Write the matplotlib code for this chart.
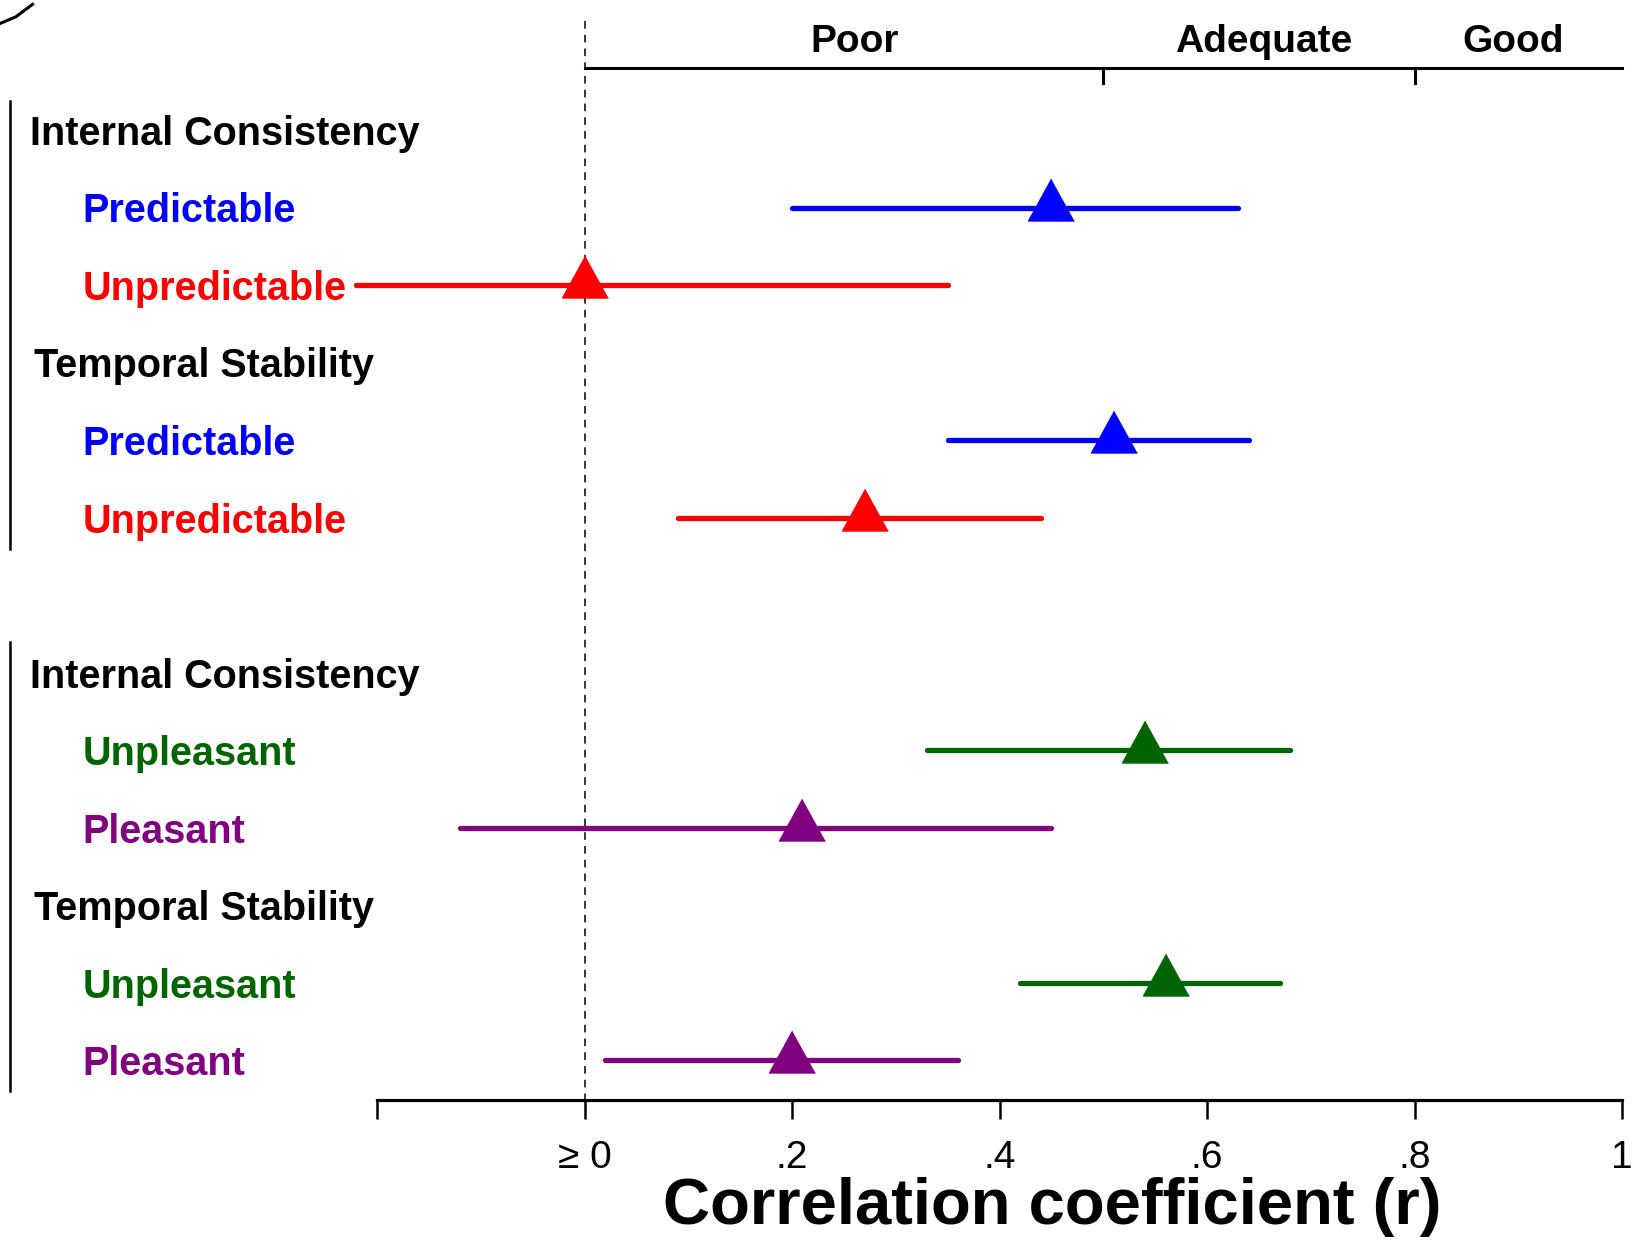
import matplotlib.pyplot as plt

plt.rcParams['font.family'] = ['Liberation Sans', 'DejaVu Sans']

# rows top to bottom (row 6 is the gap between the two panels)
labels = ['Internal Consistency', 'Predictable', 'Unpredictable',
          'Temporal Stability', 'Predictable', 'Unpredictable', '',
          'Internal Consistency', 'Unpleasant', 'Pleasant',
          'Temporal Stability', 'Unpleasant', 'Pleasant']
is_header = [True, False, False, True, False, False, False,
             True, False, False, True, False, False]
label_colors = ['black', 'blue', 'red', 'black', 'blue', 'red', 'black',
                'black', 'darkgreen', 'purple', 'black', 'darkgreen', 'purple']

# estimates (row index, r, lower CI, upper CI)
est_rows = [1, 2, 4, 5, 8, 9, 11, 12]
est_r = [0.45, 0.00, 0.51, 0.27, 0.54, 0.21, 0.56, 0.20]
est_lo = [0.20, -0.22, 0.35, 0.09, 0.33, -0.12, 0.42, 0.02]
est_hi = [0.63, 0.35, 0.64, 0.44, 0.68, 0.45, 0.67, 0.36]
est_colors = ['blue', 'red', 'blue', 'red', 'darkgreen', 'purple', 'darkgreen', 'purple']

xticks = [-0.2, 0, 0.2, 0.4, 0.6, 0.8, 1.0]
xticklabels = ['', '\u2265 0', '.2', '.4', '.6', '.8', '1']

bands = ['Poor', 'Adequate', 'Good']
band_centers = [0.26, 0.655, 0.895]
band_breaks = [0.5, 0.8]

fig = plt.figure(figsize=(16.32, 12.47), dpi=100)
ax = fig.add_axes([377 / 1632, 147 / 1247, 1245 / 1632, 1100 / 1247])
ax.set_xlim(-0.2, 1.0)
ax.set_ylim(12.51, -1.676)

for s in ['top', 'left', 'right']:
    ax.spines[s].set_visible(False)
ax.spines['bottom'].set_linewidth(2.3)
ax.set_yticks([])
ax.set_xticks(xticks)
ax.set_xticklabels(xticklabels, fontsize=28)
ax.tick_params(axis='x', length=13.5, width=1.8, pad=15)

# dashed reference line at 0
ax.plot([0, 0], [-1.405, 12.51], color='black', ls=(0, (5, 4)), lw=1.1, clip_on=False)

# quality bands at top
ax.plot([0, 1.0], [-0.8, -0.8], color='black', lw=2.2, clip_on=False)
for b in band_breaks:
    ax.plot([b, b], [-0.8, -0.6], color='black', lw=2.2)
for name, c in zip(bands, band_centers):
    ax.text(c, -1.14, name, fontsize=28, fontweight='bold', ha='center', va='center')

# estimates with confidence intervals
tri = [(0, 28), (-22, -12), (22, -12)]
for row, r, lo, hi, col in zip(est_rows, est_r, est_lo, est_hi, est_colors):
    ax.plot([lo, hi], [row, row], color=col, lw=3.8, solid_capstyle='round', clip_on=False)
    ax.plot(r, row, marker=tri, markersize=42, color=col, ls='none', clip_on=False)

# row labels
for i, (lab, hdr, col) in enumerate(zip(labels, is_header, label_colors)):
    if not lab:
        continue
    x = -0.534 if hdr else -0.484
    if lab == 'Temporal Stability':
        x = -0.531
    ax.text(x, i + 0.05, lab, fontsize=28.5, fontweight='bold', color=col,
            ha='left', va='center', clip_on=False)

# panel brackets on the left
ax.plot([-0.5536, -0.5536], [-0.374, 5.40], color='black', lw=1.8, clip_on=False)
ax.plot([-0.5536, -0.5536], [6.60, 12.40], color='black', lw=1.8, clip_on=False)

# cut-off arrow fragment in the top-left corner
ax.plot([-0.5656, -0.548, -0.532], [-1.36, -1.46, -1.62], color='black', lw=2.2,
        clip_on=False)

fig.text(1052 / 1632, 1 - 1207 / 1247, 'Correlation coefficient (r)',
         fontsize=47, fontweight='bold', ha='center', va='center')

fig.savefig('out.png', dpi=100)
